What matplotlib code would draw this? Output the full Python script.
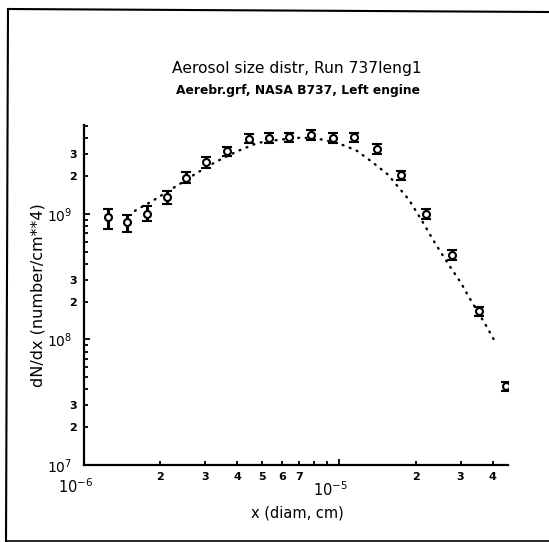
import numpy as np
import matplotlib
matplotlib.use('Agg')
import matplotlib.pyplot as plt
from matplotlib.ticker import FixedLocator, FuncFormatter, NullFormatter
from matplotlib.lines import Line2D

# measured points (diam in cm, dN/dx in number/cm**4)
diam = [1.244e-6, 1.484e-6, 1.772e-6, 2.117e-6, 2.512e-6, 3.03e-6, 3.66e-6,
        4.43e-6, 5.31e-6, 6.39e-6, 7.77e-6, 9.45e-6, 1.152e-5, 1.413e-5,
        1.76e-5, 2.19e-5, 2.77e-5, 3.53e-5, 4.53e-5]
dndx = [9.41e8, 8.63e8, 9.95e8, 1.358e9, 1.936e9, 2.58e9, 3.16e9,
        3.98e9, 4.03e9, 4.08e9, 4.26e9, 4.03e9, 4.08e9, 3.30e9,
        2.03e9, 1.0e9, 4.71e8, 1.687e8, 4.26e7]
err_lo = [1.86e8, 1.44e8, 1.16e8, 1.56e8, 1.79e8, 2.7e8, 2.6e8,
          3.4e8, 3.4e8, 3.5e8, 3.6e8, 3.4e8, 3.5e8, 2.8e8,
          1.7e8, 8.5e7, 4.0e7, 1.4e7, 3.6e6]
err_hi = [1.49e8, 1.14e8, 1.55e8, 1.59e8, 2.12e8, 2.7e8, 2.4e8,
          3.4e8, 3.4e8, 3.5e8, 3.6e8, 3.4e8, 3.5e8, 2.8e8,
          1.7e8, 8.5e7, 4.0e7, 1.4e7, 3.6e6]

# dotted fitted curve
fit_x = [1.591e-6, 1.777e-6, 1.944e-6, 2.122e-6, 2.496e-6, 2.732e-6, 3.27e-6,
         4.035e-6, 4.83e-6, 5.823e-6, 7.183e-6, 8.50e-6, 1.009e-5, 1.173e-5,
         1.343e-5, 1.551e-5, 1.884e-5, 2.118e-5, 2.375e-5, 2.671e-5, 3.01e-5,
         3.236e-5, 3.761e-5, 4.043e-5]
fit_y = [1.057e9, 1.201e9, 1.334e9, 1.497e9, 1.832e9, 2.072e9, 2.573e9,
         3.177e9, 3.679e9, 3.887e9, 4.055e9, 3.923e9, 3.613e9, 3.195e9,
         2.61e9, 2.072e9, 1.293e9, 8.79e8, 5.905e8, 4.047e8, 2.819e8,
         2.169e8, 1.305e8, 1.004e8]

xlabels_minor = {2: '2', 3: '3', 4: '4', 5: '5', 6: '6', 7: '7'}
xlabels_minor2 = {2: '2', 3: '3', 4: '4'}
ylabels_minor = {2: '2', 3: '3'}

fig = plt.figure(figsize=(5.49, 5.42), dpi=100)
ax = fig.add_axes([83.5/549, 1 - 465/542, (508 - 83.5)/549, (465 - 125)/542])

ax.plot(fit_x, fit_y, color='black', lw=1.7, ls=(0, (0.4, 2.8)),
        dash_capstyle='round')
ax.errorbar(diam, dndx, yerr=[err_lo, err_hi], fmt='o', color='black',
            mfc='white', mec='black', ms=5, mew=1.5, elinewidth=2.2,
            capsize=3.8, capthick=2.2)

ax.set_xscale('log')
ax.set_yscale('log')
ax.set_xlim(1e-6, 4.6e-5)
ax.set_ylim(1e7, 5.1e9)

for s in ['top', 'right']:
    ax.spines[s].set_visible(False)
for s in ['left', 'bottom']:
    ax.spines[s].set_linewidth(1.6)

# x ticks
ax.xaxis.set_major_locator(FixedLocator([1e-6, 1e-5]))
ax.xaxis.set_major_formatter(NullFormatter())
xmin = [k * 1e-6 for k in range(2, 10)] + [k * 1e-5 for k in range(2, 5)]
ax.xaxis.set_minor_locator(FixedLocator(xmin))

def xfmt(v, pos):
    m = v / 10 ** np.floor(np.log10(v) + 1e-9)
    k = int(round(m))
    if v < 1e-5:
        return xlabels_minor.get(k, '')
    return xlabels_minor2.get(k, '')

ax.xaxis.set_minor_formatter(FuncFormatter(xfmt))

# y ticks
ax.yaxis.set_major_locator(FixedLocator([1e7, 1e8, 1e9]))
ax.yaxis.set_major_formatter(FuncFormatter(
    lambda v, p: r'$\mathregular{10^{%d}}$' % round(np.log10(v))))
ymin = [k * 10.0 ** e for e in (7, 8, 9) for k in range(2, 10)]
ax.yaxis.set_minor_locator(FixedLocator(ymin))

def yfmt(v, pos):
    m = v / 10 ** np.floor(np.log10(v) + 1e-9)
    return ylabels_minor.get(int(round(m)), '')

ax.yaxis.set_minor_formatter(FuncFormatter(yfmt))

ax.tick_params(which='both', direction='in', color='black', width=1.3)
ax.tick_params(which='major', length=4.5)
ax.tick_params(which='minor', length=3)
ax.tick_params(axis='x', which='minor', pad=5, labelsize=8)
ax.tick_params(axis='y', which='minor', pad=4.5, labelsize=8)
ax.tick_params(axis='y', which='major', pad=8, labelsize=10)
for lab in ax.xaxis.get_minorticklabels() + ax.yaxis.get_minorticklabels():
    lab.set_fontweight('bold')

for xv, dy in [(1e-6, -22), (1e-5, -25)]:
    e = round(np.log10(xv))
    ax.annotate(r'$\mathregular{10^{%d}}$' % e, xy=(xv, 0),
                xycoords=('data', 'axes fraction'), xytext=(-8, dy),
                textcoords='offset pixels', ha='center', va='center',
                fontsize=10.5)

fig.text(297/549, 1 - 69/542, 'Aerosol size distr, Run 737leng1',
         ha='center', va='center', fontsize=11.2)
fig.text(298/549, 1 - 90.5/542, 'Aerebr.grf, NASA B737, Left engine',
         ha='center', va='center', fontsize=8.8, fontweight='bold')
fig.text(38/549, 1 - 295/542, 'dN/dx (number/cm**4)', rotation=90,
         ha='center', va='center', fontsize=11.5)
fig.text(297/549, 1 - 513/542, 'x (diam, cm)', ha='center', va='center',
         fontsize=10.5)

# scanned page border
fig.add_artist(Line2D([8/549, 1.0], [1 - 9/542, 1 - 12/542], color='black',
                      lw=1.5, transform=fig.transFigure))
fig.add_artist(Line2D([8/549, 6/549], [1 - 9/542, 0.0], color='black',
                      lw=1.5, transform=fig.transFigure))
fig.add_artist(Line2D([6/549, 1.0], [1/542, 1/542], color='black',
                      lw=1.2, transform=fig.transFigure))

fig.savefig('out.png', dpi=100)
